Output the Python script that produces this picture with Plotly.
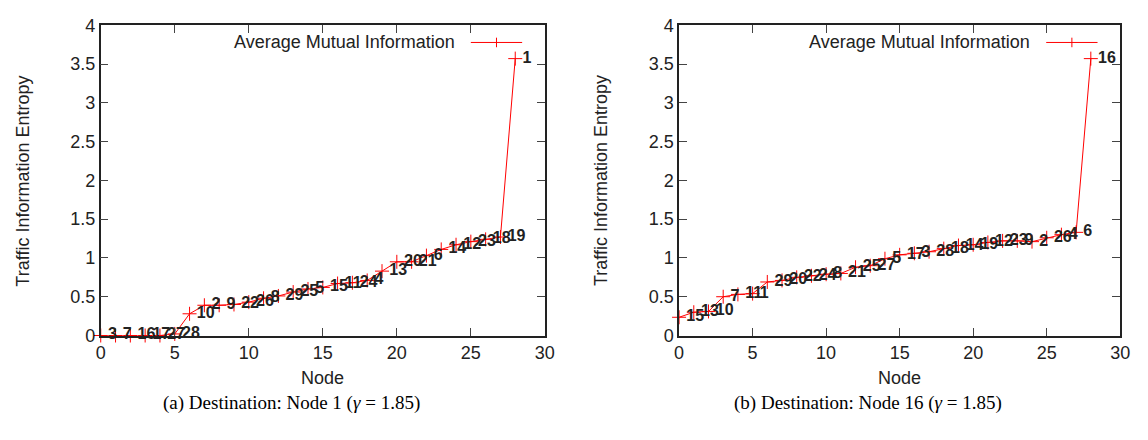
import plotly.graph_objects as go

node_pos = list(range(29))
labels_a = [3, 7, 16, 17, 27, 28, 10, 2, 9, 22, 26, 8, 29, 25, 5, 15, 11, 24, 4, 13,
            20, 21, 6, 14, 12, 23, 18, 19, 1]
entropy_a = [0.0, 0.0, 0.0, 0.0, 0.0, 0.02, 0.28, 0.39, 0.39, 0.40, 0.43, 0.48, 0.51,
             0.56, 0.60, 0.62, 0.67, 0.68, 0.71, 0.83, 0.95, 0.95, 1.03, 1.11, 1.17,
             1.21, 1.24, 1.27, 3.57]
labels_b = [15, 13, 10, 7, 11, 1, 29, 20, 22, 24, 8, 21, 25, 27, 5, 17, 3, 28, 18, 14,
            19, 12, 23, 9, 2, 26, 4, 6, 16]
entropy_b = [0.235, 0.30, 0.31, 0.50, 0.53, 0.54, 0.69, 0.71, 0.75, 0.77, 0.79, 0.80,
             0.88, 0.90, 0.99, 1.04, 1.06, 1.08, 1.12, 1.16, 1.17, 1.20, 1.22, 1.22,
             1.21, 1.26, 1.30, 1.33, 3.57]
x_ticks = [0, 5, 10, 15, 20, 25, 30]
y_ticks = [0, 0.5, 1, 1.5, 2, 2.5, 3, 3.5, 4]
y_tick_text = ["0", "0.5", "1", "1.5", "2", "2.5", "3", "3.5", "4"]
series_name = "Average Mutual Information"
captions = ["(a) Destination: Node 1 (<i>γ</i> = 1.85)",
            "(b) Destination: Node 16 (<i>γ</i> = 1.85)"]

W, H = 1148, 440
red = "#ff0000"
ink = "#222222"
sans = "Liberation Sans, Arial, Helvetica, sans-serif"
FS = 18

fig = go.Figure()

panels = [
    dict(x0=97, x1=547, labels=labels_a, y=entropy_a, xa="x", ya="y"),
    dict(x0=683, x1=1130, labels=labels_b, y=entropy_b, xa="x2", ya="y2"),
]
ytop, ybot = 16, 341
ydom = [1 - ybot / H, 1 - ytop / H]

for i, p in enumerate(panels):
    fig.add_trace(go.Scatter(
        x=node_pos, y=p["y"], text=[str(v) for v in p["labels"]],
        mode="lines+markers+text", textposition="middle right",
        textfont=dict(family=sans, size=16, color=ink, weight="bold"),
        line=dict(color=red, width=1),
        marker=dict(symbol="cross-thin", size=10, line=dict(color=red, width=1)),
        xaxis=p["xa"], yaxis=p["ya"], showlegend=False, cliponaxis=False,
    ))
    axx = dict(domain=[p["x0"] / W, p["x1"] / W], range=[0, 30], tickvals=x_ticks,
               ticks="inside", ticklen=8, mirror="ticks", showline=True,
               linecolor=ink, linewidth=1.5, showgrid=False, zeroline=False,
               tickfont=dict(family=sans, size=FS, color=ink),
               anchor=p["ya"])
    axy = dict(domain=ydom, range=[0, 4], tickvals=y_ticks, ticktext=y_tick_text,
               ticks="inside", ticklen=8, mirror="ticks", showline=True,
               linecolor=ink, linewidth=1.5, showgrid=False, zeroline=False,
               tickfont=dict(family=sans, size=FS, color=ink),
               anchor=p["xa"])
    key = "" if i == 0 else "2"
    fig.layout["xaxis" + key] = axx
    fig.layout["yaxis" + key] = axy

    cx = (p["x0"] + p["x1"]) / 2
    # axis titles
    fig.add_annotation(text="Node", xref="paper", yref="paper", x=cx / W, y=1 - 386 / H,
                       xanchor="center", yanchor="middle",
                       showarrow=False, font=dict(family=sans, size=FS, color=ink))
    fig.add_annotation(text="Traffic Information Entropy", xref="paper", yref="paper",
                       x=(p["x0"] - 79) / W, y=1 - 179 / H, textangle=-90,
                       xanchor="center", yanchor="middle",
                       showarrow=False, font=dict(family=sans, size=FS, color=ink))
    # caption
    fig.add_annotation(text=captions[i], xref="paper", yref="paper",
                       x=(cx - 32) / W, y=1 - 412 / H, showarrow=False,
                       xanchor="center", yanchor="middle",
                       font=dict(family="Liberation Serif, DejaVu Serif, serif", size=19,
                                 color="#000000"))
    # legend key
    lx0, lx1 = p["x1"] - 75, p["x1"] - 23
    ly = 34
    fig.add_annotation(text=series_name, xref="paper", yref="paper",
                       x=(lx0 - 14) / W, y=1 - ly / H, xanchor="right", yanchor="middle",
                       showarrow=False, font=dict(family=sans, size=FS, color=ink))
    fig.add_shape(type="line", xref="paper", yref="paper", x0=lx0 / W, x1=lx1 / W,
                  y0=1 - ly / H, y1=1 - ly / H, line=dict(color=red, width=1))
    mx = (lx0 + lx1) / 2
    fig.add_shape(type="line", xref="paper", yref="paper", x0=mx / W, x1=mx / W,
                  y0=1 - (ly - 5) / H, y1=1 - (ly + 5) / H, line=dict(color=red, width=1))

fig.update_layout(width=W, height=H, margin=dict(l=0, r=0, t=0, b=0),
                  paper_bgcolor="white", plot_bgcolor="white")
fig.write_html("out.html")
